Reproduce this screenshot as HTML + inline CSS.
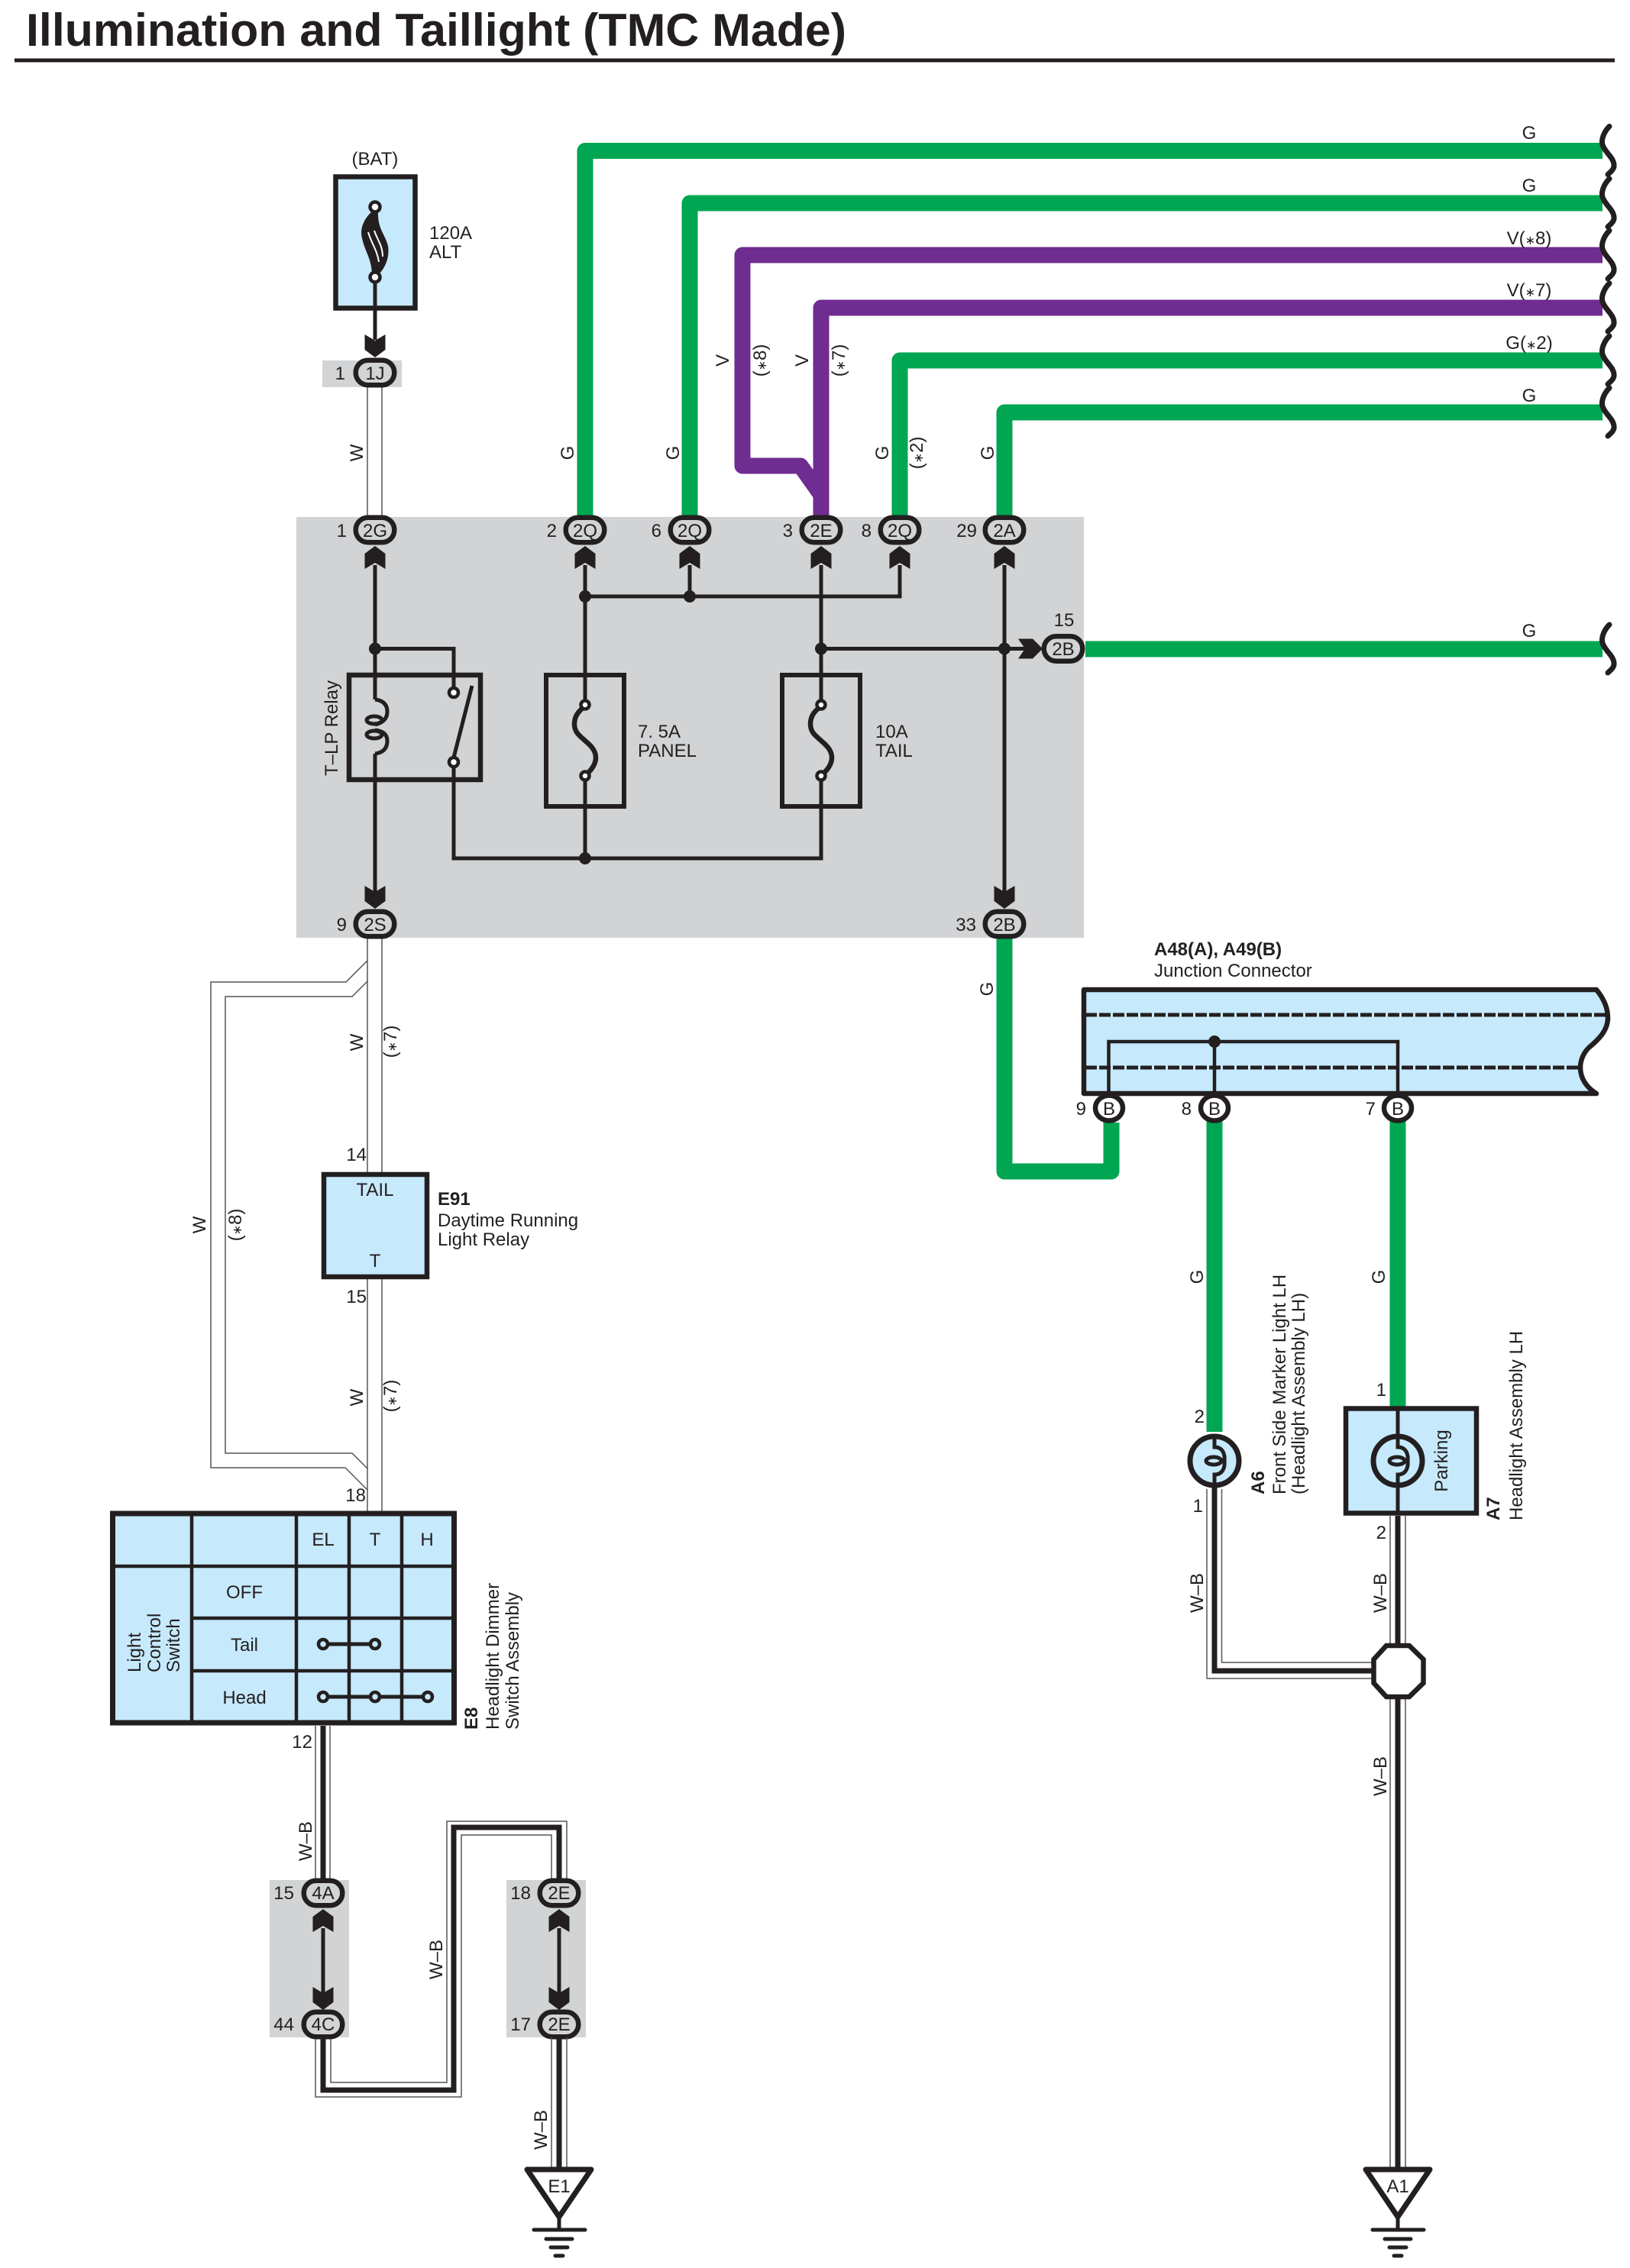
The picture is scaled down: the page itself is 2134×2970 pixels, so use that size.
<!DOCTYPE html>
<html><head><meta charset="utf-8"><title>Illumination and Taillight (TMC Made)</title>
<style>
html,body{margin:0;padding:0;background:#fff}
svg{display:block}
text{font-family:"Liberation Sans","DejaVu Sans",sans-serif;font-size:24px;fill:#231f20}
tspan.s{font-size:16px}
.m{text-anchor:middle}.e{text-anchor:end}.b{font-weight:bold}
.g{fill:none;stroke:#00a651;stroke-width:21;stroke-linejoin:round}
.p{fill:none;stroke:#6f2c91;stroke-width:21;stroke-linejoin:round}
.k{fill:none;stroke:#231f20;stroke-width:5}
.kk{fill:none;stroke:#231f20;stroke-width:7}
.r{fill:none;stroke:#555;stroke-width:1.5}
.c{fill:#d1d3d4;stroke:#231f20;stroke-width:6.5}
.w{fill:#fff;stroke:#231f20;stroke-width:6.5}
.t{fill:#fff;stroke:#231f20;stroke-width:4.5}
</style></head><body>
<svg xmlns="http://www.w3.org/2000/svg" width="2134" height="2970" viewBox="0 0 2134 2970">
<defs>
<path id="au" d="M0 0L13.5 10V30L0 22L-13.5 30V10Z" fill="#231f20"/>
<path id="ad" d="M0 0L13.5 -10V-30L0 -22L-13.5 -30V-10Z" fill="#231f20"/>
<path id="wv" d="M2107 -32C2100 -25 2096 -15 2098 -8C2101 2 2112 8 2113 18C2114 24 2108 28 2105 31" fill="none" stroke="#231f20" stroke-width="7" stroke-linecap="round"/>
<rect id="cg" x="-25.250" y="-16.250" width="50.500" height="32.500" rx="16" class="c"/>
<g id="fuse">
<rect x="-51" y="-86" width="102" height="172" fill="none" stroke="#231f20" stroke-width="6"/>
<path d="M0 -86V-47M0 46V86" class="k"/>
<path d="M-4 -42C-10 -37 -14 -30 -14 -22C-14 -10 -6 -6 0 0C6 5 14 12 14 22C14 30 9 37 4 42" fill="none" stroke="#231f20" stroke-width="6.500"/>
<circle cx="0" cy="-47" r="5.500" class="t"/><circle cx="0" cy="46" r="5.500" class="t"/>
</g>
<g id="lamp">
<circle r="32" fill="#c6e9fc" stroke="#231f20" stroke-width="7"/>
<path d="M0 -35V-18C10 -18 14 -10 13 0C14 10 10 18 0 18V35" fill="none" stroke="#231f20" stroke-width="5"/>
<ellipse cx="-1" cy="0" rx="10" ry="5" fill="none" stroke="#231f20" stroke-width="5"/>
</g>
</defs>
<rect width="2134" height="2970" fill="#fff"/>

<!-- title -->
<text x="34" y="60" class="b" style="font-size:60px" textLength="1074" lengthAdjust="spacingAndGlyphs">Illumination and Taillight (TMC Made)</text>
<rect x="19" y="76.500" width="2095" height="5" fill="#231f20"/>

<!-- gray zones -->
<rect x="388" y="677" width="1031" height="551" fill="#d1d3d4"/>
<rect x="422" y="472" width="104" height="35" fill="#d1d3d4"/>
<rect x="353" y="2462" width="104" height="206" fill="#d1d3d4"/>
<rect x="663" y="2462" width="104" height="206" fill="#d1d3d4"/>

<!-- coloured wires -->
<path class="g" d="M766 675V197.500H2098"/>
<path class="g" d="M903 675V266H2098"/>
<path class="p" d="M1075 675V648L1048 610H972V334H2098"/>
<path class="p" d="M1075 660V403H2098"/>
<path class="g" d="M1178 675V472H2098"/>
<path class="g" d="M1315 675V540H2098"/>
<path class="g" d="M1421 850H2098"/>
<path class="g" d="M1315 1225V1534H1455V1470"/>
<path class="g" d="M1590 1468V1875"/>
<path class="g" d="M1830 1468V1842"/>
<use href="#wv" transform="translate(0,197.500)"/>
<use href="#wv" transform="translate(0,266)"/>
<use href="#wv" transform="translate(0,334)"/>
<use href="#wv" transform="translate(0,403)"/>
<use href="#wv" transform="translate(0,472)"/>
<use href="#wv" transform="translate(0,540)"/>
<use href="#wv" transform="translate(0,850)"/>

<!-- W ribbon wires -->
<path class="r" d="M481 507V677M500 507V677"/>
<path class="r" d="M481 1228V1536M500 1228V1536M481 1674V1982M500 1674V1982"/>
<path class="r" d="M481 1258L453 1286H276V1922H452L481 1951"/>
<path class="r" d="M481 1285L461 1305H295V1903H461L481 1923"/>

<!-- fuse 120A -->
<rect x="439.500" y="231.500" width="104" height="172" fill="#c6e9fc" stroke="#231f20" stroke-width="6.500"/>
<path d="M491 363V445" class="k"/>
<path d="M488 276C472 290 472 305 474 312C478 330 486 338 487 358L497 358C506 348 510 335 508 322C504 306 494 300 495 276Z" fill="#231f20"/>
<path d="M482 304C486 318 494 328 496 343M490 302C494 314 501 322 501 336" fill="none" stroke="#fff" stroke-width="2"/>
<circle cx="491" cy="271" r="6.500" class="t"/><circle cx="491" cy="363" r="6.500" class="t"/>
<use href="#ad" x="491" y="468"/>
<use href="#cg" x="491" y="488"/>

<!-- inside relay box wires -->
<path class="k" d="M491 740V916M491 987V1170M491 849.500H594V900M594 1005V1124H1075V1056M1075 884V740M766 740V884M766 1056V1124M766 781H1178V740M903 740V781M1075 849.500H1345M1315 740V1170"/>
<rect x="457" y="884" width="172" height="137" fill="none" stroke="#231f20" stroke-width="6.500"/>
<path d="M491 916Q507 918 507 932Q507 945 491 949M491 956Q507 958 507 970Q507 985 491 987" fill="none" stroke="#231f20" stroke-width="5"/>
<ellipse cx="490" cy="943" rx="10" ry="5" fill="none" stroke="#231f20" stroke-width="5"/>
<ellipse cx="490" cy="962" rx="10" ry="5" fill="none" stroke="#231f20" stroke-width="5"/>
<path d="M594 992L618 898" class="k"/>
<circle cx="594" cy="907" r="6" class="t"/>
<circle cx="594" cy="998" r="6" class="t"/>
<use href="#fuse" x="766" y="970"/>
<use href="#fuse" x="1075" y="970"/>
<circle cx="491" cy="849.500" r="8" fill="#231f20"/>
<circle cx="766" cy="781" r="8" fill="#231f20"/>
<circle cx="903" cy="781" r="8" fill="#231f20"/>
<circle cx="766" cy="1124" r="8" fill="#231f20"/>
<circle cx="1075" cy="849.500" r="8" fill="#231f20"/>
<circle cx="1315" cy="849.500" r="8" fill="#231f20"/>
<use href="#au" x="491" y="715"/><use href="#au" x="766" y="715"/><use href="#au" x="903" y="715"/>
<use href="#au" x="1075" y="715"/><use href="#au" x="1178" y="715"/><use href="#au" x="1315" y="715"/>
<use href="#ad" x="491" y="1190"/><use href="#ad" x="1315" y="1190"/>
<path d="M1365 849.500L1352 836.500H1333L1342 849.500L1333 862.500H1352Z" fill="#231f20"/>
<use href="#cg" x="491" y="694"/><use href="#cg" x="766" y="694"/><use href="#cg" x="903" y="694"/>
<use href="#cg" x="1075" y="694"/><use href="#cg" x="1178" y="694"/><use href="#cg" x="1315" y="694"/>
<use href="#cg" x="1392" y="849.500"/>
<use href="#cg" x="491" y="1210"/><use href="#cg" x="1315" y="1210"/>

<!-- E91 -->
<rect x="424" y="1538" width="135" height="134" fill="#c6e9fc" stroke="#231f20" stroke-width="6.500"/>

<!-- E8 table -->
<rect x="147.500" y="1982" width="447" height="274" fill="#c6e9fc" stroke="#231f20" stroke-width="7"/>
<path d="M251 1982V2256M388 1982V2256M457 1982V2256M526 1982V2256M147.500 2051H594M251 2119H594M251 2188H594" fill="none" stroke="#231f20" stroke-width="4.500"/>
<path d="M423 2153H491M423 2222H560" class="k"/>
<ellipse cx="423" cy="2153" rx="6" ry="6" class="t" style="fill:#c6e9fc"/>
<ellipse cx="491" cy="2153" rx="6" ry="6" class="t" style="fill:#c6e9fc"/>
<ellipse cx="423" cy="2222" rx="6" ry="6" class="t" style="fill:#c6e9fc"/>
<ellipse cx="491" cy="2222" rx="6" ry="6" class="t" style="fill:#c6e9fc"/>
<ellipse cx="560" cy="2222" rx="6" ry="6" class="t" style="fill:#c6e9fc"/>

<!-- lower-left W-B wires -->
<path class="r" d="M413 2260V2462M432 2260V2462"/>
<path class="kk" d="M423 2260V2462"/>
<path class="r" d="M413 2668V2746H604V2403H722V2462"/>
<path class="r" d="M433 2668V2727H585V2385H742V2462"/>
<path class="kk" d="M423 2668V2737H594V2393H732V2462"/>
<path class="k" d="M423 2525V2610M732 2525V2610"/>
<use href="#au" x="423" y="2500"/><use href="#au" x="732" y="2500"/>
<use href="#ad" x="423" y="2632"/><use href="#ad" x="732" y="2632"/>
<use href="#cg" x="423" y="2479"/><use href="#cg" x="423" y="2651"/>
<use href="#cg" x="732" y="2479"/><use href="#cg" x="732" y="2651"/>
<path class="r" d="M722 2668V2839M742 2668V2839"/>
<path class="kk" d="M732 2668V2839"/>
<path d="M690 2841H774L732 2903Z" fill="#fff" stroke="#231f20" stroke-width="7" stroke-linejoin="round"/>
<path class="k" d="M732 2902V2920"/>
<g stroke="#231f20" stroke-width="5" stroke-linecap="round"><path d="M699 2920H766M715 2932H749M721 2943H743M727 2954H737"/></g>

<!-- junction connector -->
<path d="M1419 1296H2090C2100 1308 2105 1320 2105 1333C2105 1350 2092 1362 2080 1372C2072 1380 2069 1390 2069 1398C2069 1412 2077 1424 2090 1432H1419Z" fill="#c6e9fc" stroke="#231f20" stroke-width="6.500" stroke-linejoin="round"/>
<path d="M1421 1329H2104M1421 1398H2069" fill="none" stroke="#231f20" stroke-width="5" stroke-dasharray="15 3"/>
<path d="M1451.500 1432V1364H1830V1432M1590 1364V1432" fill="none" stroke="#231f20" stroke-width="4.500"/>
<circle cx="1590" cy="1364" r="8" fill="#231f20"/>
<ellipse cx="1452" cy="1451" rx="18" ry="16.500" class="w"/>
<ellipse cx="1590" cy="1451" rx="18" ry="16.500" class="w"/>
<ellipse cx="1830" cy="1451" rx="18" ry="16.500" class="w"/>

<!-- A7 box & lamps -->
<rect x="1762" y="1844.500" width="171" height="137" fill="#c6e9fc" stroke="#231f20" stroke-width="6.500"/>
<path class="k" d="M1830 1845V1880M1830 1946V1982"/>
<use href="#lamp" x="1590" y="1913"/>
<use href="#lamp" x="1830" y="1913"/>

<!-- lower-right W-B -->
<path class="r" d="M1580 1950V2198H1797M1599.500 1950V2177H1797"/>
<path class="kk" d="M1590 1948V2188H1797"/>
<path class="r" d="M1820 1985V2155M1840 1985V2155M1820 2222V2839M1840 2222V2839"/>
<path class="kk" d="M1830 1985V2155M1830 2222V2839"/>
<path d="M1815 2155H1845L1863.500 2173V2204L1845 2222H1815L1798.500 2204V2173Z" fill="#fff" stroke="#231f20" stroke-width="6.500"/>
<path d="M1788 2841H1872L1830 2903Z" fill="#fff" stroke="#231f20" stroke-width="7" stroke-linejoin="round"/>
<path class="k" d="M1830 2902V2920"/>
<g stroke="#231f20" stroke-width="5" stroke-linecap="round"><path d="M1797 2920H1864M1813 2932H1847M1819 2943H1841M1825 2954H1835"/></g>

<!-- labels: top -->
<text x="491" y="216" class="m">(BAT)</text>
<text x="562" y="313">120A</text><text x="562" y="338">ALT</text>
<text x="452" y="497" class="e">1</text><text x="491" y="497" class="m">1J</text>
<text x="2002" y="182" class="m">G</text><text x="2002" y="251" class="m">G</text>
<text x="2002" y="320" class="m">V(<tspan class="s">∗</tspan>8)</text><text x="2002" y="388" class="m">V(<tspan class="s">∗</tspan>7)</text>
<text x="2002" y="457" class="m">G(<tspan class="s">∗</tspan>2)</text><text x="2002" y="526" class="m">G</text>
<text x="2002" y="834" class="m">G</text>

<text transform="translate(475,593) rotate(-90)" class="m">W</text>
<text transform="translate(751,593) rotate(-90)" class="m">G</text>
<text transform="translate(889,593) rotate(-90)" class="m">G</text>
<text transform="translate(954,472) rotate(-90)" class="m">V</text>
<text transform="translate(1003,472) rotate(-90)" class="m">(<tspan class="s">∗</tspan>8)</text>
<text transform="translate(1058,472) rotate(-90)" class="m">V</text>
<text transform="translate(1106,472) rotate(-90)" class="m">(<tspan class="s">∗</tspan>7)</text>
<text transform="translate(1163,593) rotate(-90)" class="m">G</text>
<text transform="translate(1208,593) rotate(-90)" class="m">(<tspan class="s">∗</tspan>2)</text>
<text transform="translate(1301,593) rotate(-90)" class="m">G</text>

<!-- connector labels -->
<text x="454" y="703" class="e">1</text><text x="491" y="703" class="m">2G</text>
<text x="729" y="703" class="e">2</text><text x="766" y="703" class="m">2Q</text>
<text x="866" y="703" class="e">6</text><text x="903" y="703" class="m">2Q</text>
<text x="1038" y="703" class="e">3</text><text x="1075" y="703" class="m">2E</text>
<text x="1141" y="703" class="e">8</text><text x="1178" y="703" class="m">2Q</text>
<text x="1279" y="703" class="e">29</text><text x="1315" y="703" class="m">2A</text>
<text x="1393" y="820" class="m">15</text><text x="1392" y="858" class="m">2B</text>
<text x="454" y="1219" class="e">9</text><text x="491" y="1219" class="m">2S</text>
<text x="1278" y="1219" class="e">33</text><text x="1315" y="1219" class="m">2B</text>

<text transform="translate(442,1016) rotate(-90)">T–LP Relay</text>
<text x="835" y="966" xml:space="preserve">7. 5A</text><text x="835" y="991">PANEL</text>
<text x="1146" y="966">10A</text><text x="1146" y="991">TAIL</text>

<text transform="translate(1300,1295) rotate(-90)" class="m">G</text>
<text x="1511" y="1251" class="b">A48(A), A49(B)</text>
<text x="1511" y="1279">Junction Connector</text>
<text x="1422" y="1460" class="e">9</text><text x="1452" y="1460" class="m">B</text>
<text x="1560" y="1460" class="e">8</text><text x="1590" y="1460" class="m">B</text>
<text x="1801" y="1460" class="e">7</text><text x="1830" y="1460" class="m">B</text>

<!-- W left column -->
<text transform="translate(475,1365) rotate(-90)" class="m">W</text>
<text transform="translate(519,1364) rotate(-90)" class="m">(<tspan class="s">∗</tspan>7)</text>
<text transform="translate(269,1604) rotate(-90)" class="m">W</text>
<text transform="translate(316,1604) rotate(-90)" class="m">(<tspan class="s">∗</tspan>8)</text>
<text x="480" y="1520" class="e">14</text>
<text x="491" y="1566" class="m">TAIL</text>
<text x="491" y="1659" class="m">T</text>
<text x="480" y="1706" class="e">15</text>
<text x="573" y="1578" class="b">E91</text>
<text x="573" y="1606">Daytime Running</text>
<text x="573" y="1631">Light Relay</text>
<text transform="translate(475,1830) rotate(-90)" class="m">W</text>
<text transform="translate(519,1828) rotate(-90)" class="m">(<tspan class="s">∗</tspan>7)</text>
<text x="479" y="1966" class="e">18</text>

<!-- E8 labels -->
<text x="423" y="2024" class="m">EL</text><text x="491" y="2024" class="m">T</text><text x="559" y="2024" class="m">H</text>
<text x="320" y="2093" class="m">OFF</text><text x="320" y="2162" class="m">Tail</text><text x="320" y="2231" class="m">Head</text>
<text transform="translate(184,2190) rotate(-90)">Light</text>
<text transform="translate(210,2190) rotate(-90)">Control</text>
<text transform="translate(235,2190) rotate(-90)">Switch</text>
<text transform="translate(625,2265) rotate(-90)" class="b">E8</text>
<text transform="translate(653,2265) rotate(-90)">Headlight Dimmer</text>
<text transform="translate(679,2265) rotate(-90)">Switch Assembly</text>
<text x="409" y="2289" class="e">12</text>
<text transform="translate(408,2411) rotate(-90)" class="m">W–B</text>

<text x="385" y="2487" class="e">15</text><text x="423" y="2487" class="m">4A</text>
<text x="385" y="2659" class="e">44</text><text x="423" y="2659" class="m">4C</text>
<text x="695" y="2487" class="e">18</text><text x="732" y="2487" class="m">2E</text>
<text x="695" y="2659" class="e">17</text><text x="732" y="2659" class="m">2E</text>
<text transform="translate(579,2566) rotate(-90)" class="m">W–B</text>
<text transform="translate(716,2789) rotate(-90)" class="m">W–B</text>
<text x="732" y="2871" class="m">E1</text>
<text x="1830" y="2871" class="m">A1</text>

<!-- right labels -->
<text transform="translate(1575,1672) rotate(-90)" class="m">G</text>
<text transform="translate(1813,1672) rotate(-90)" class="m">G</text>
<text x="1577" y="1863" class="e">2</text><text x="1575" y="1980" class="e">1</text>
<text x="1815" y="1828" class="e">1</text><text x="1815" y="2015" class="e">2</text>
<text transform="translate(1655,1957) rotate(-90)" class="b">A6</text>
<text transform="translate(1683,1957) rotate(-90)">Front Side Marker Light LH</text>
<text transform="translate(1708,1957) rotate(-90)">(Headlight Assembly LH)</text>
<text transform="translate(1895,1913) rotate(-90)" class="m">Parking</text>
<text transform="translate(1963,1991) rotate(-90)" class="b">A7</text>
<text transform="translate(1993,1991) rotate(-90)">Headlight Assembly LH</text>
<text transform="translate(1575,2086) rotate(-90)" class="m">W–B</text>
<text transform="translate(1815,2086) rotate(-90)" class="m">W–B</text>
<text transform="translate(1815,2326) rotate(-90)" class="m">W–B</text>
</svg>
</body></html>
